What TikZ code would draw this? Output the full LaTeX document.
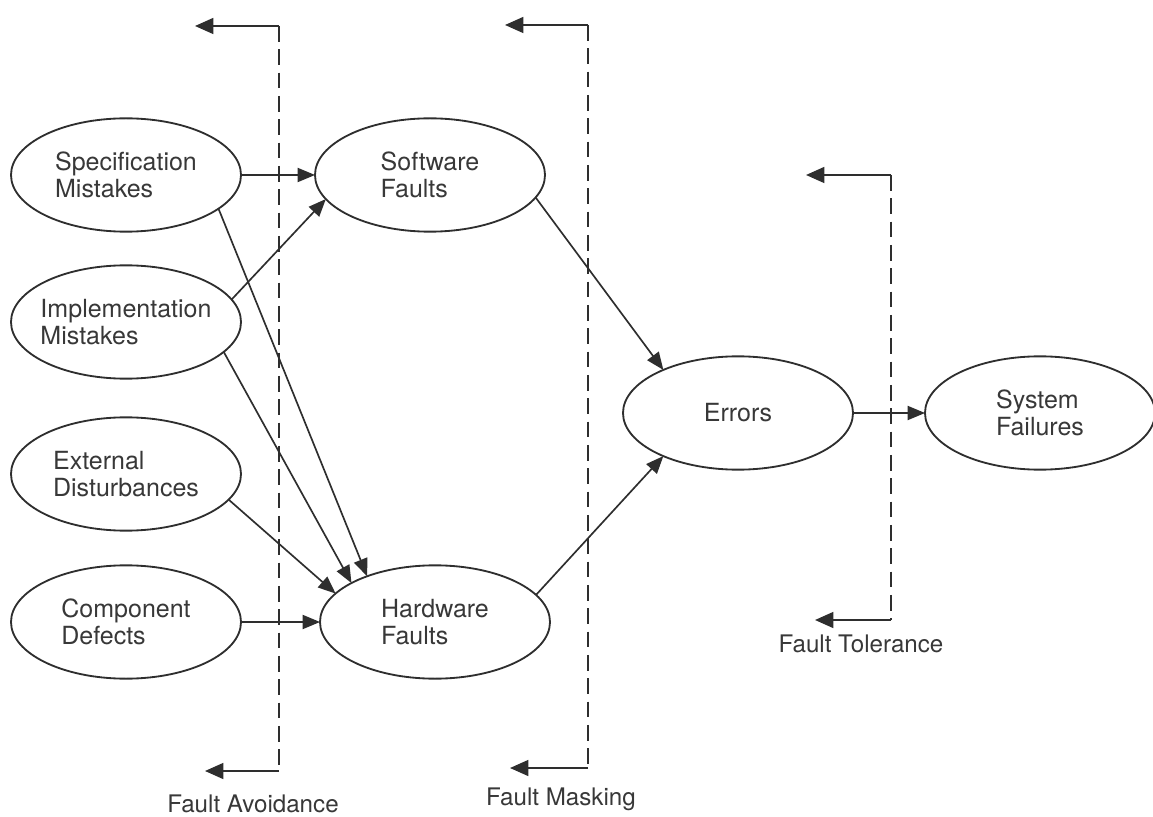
\documentclass[tikz,border=0pt]{standalone}
\usepackage{fontspec}
\setmainfont{TeX Gyre Heros}
\usetikzlibrary{shapes.geometric,arrows.meta}
\definecolor{ink}{HTML}{2E2E2E}
\definecolor{txt}{HTML}{383838}
\begin{document}
\begin{tikzpicture}[x=0.6pt,y=-0.6pt,
  bubble/.style={ellipse,draw=ink,line width=1.1pt,minimum width=138pt,minimum height=68pt,
    inner xsep=-12pt,inner ysep=0pt,outer sep=0pt,align=left,text=txt,
    font=\fontsize{15}{16}\selectfont},
  flow/.style={draw=ink,line width=1pt,-{Triangle[length=10.5pt,width=8.5pt]}},
  bound/.style={draw=ink,line width=1.1pt,dash pattern=on 9.5pt off 4.5pt},
  boundtip/.style={draw=ink,line width=1.2pt,-{Triangle[length=11pt,width=9.5pt]}},
  caption/.style={text=txt,font=\fontsize{14.5}{16}\selectfont,anchor=base,inner sep=0pt}]
\useasboundingbox (0,0) rectangle (1153,817);
\fill[white] (0,0) rectangle (1153,817);

% causes
\node[bubble] (spec) at (126,175) {Specification\\Mistakes};
\node[bubble] (impl) at (126,322) {Implementation\\Mistakes};
\node[bubble] (ext)  at (126,474) {External\\Disturbances};
\node[bubble] (comp) at (126,622) {Component\\Defects};
% faults, errors, failures
\node[bubble] (sw)  at (430,175)  {Software\\Faults};
\node[bubble] (hw)  at (435,622)  {Hardware\\Faults};
\node[bubble] (err) at (738,413)  {Errors};
\node[bubble] (sys) at (1040,413) {System\\Failures};

% cause-effect connectors
\draw[flow] (spec.east) -- (sw.west);
\draw[flow] (impl.12)   -- (sw.193);
\draw[flow] (spec.-20)  -- (hw.146);
\draw[flow] (impl.-17)  -- (hw.155);
\draw[flow] (ext.-14)   -- (hw.164);
\draw[flow] (comp.east) -- (hw.west);
\draw[flow] (sw.-12)    -- (err.150);
\draw[flow] (hw.15)     -- (err.210);
\draw[flow] (err.east)  -- (sys.west);

% fault avoidance boundary
\coordinate (avTop) at (279,26);  \coordinate (avTopEnd) at (195,26);
\coordinate (avBot) at (279,771); \coordinate (avBotEnd) at (205,771);
\draw[bound] (avTop) -- (avBot);
\draw[boundtip] (avTop) -- (avTopEnd);
\draw[boundtip] (avBot) -- (avBotEnd);
\node[caption] (avLbl) at (253,812) {Fault Avoidance};

% fault masking boundary
\coordinate (maTop) at (588,25);  \coordinate (maTopEnd) at (505,25);
\coordinate (maBot) at (588,768); \coordinate (maBotEnd) at (510,768);
\draw[bound] (maTop) -- (maBot);
\draw[boundtip] (maTop) -- (maTopEnd);
\draw[boundtip] (maBot) -- (maBotEnd);
\node[caption] (maLbl) at (561,805) {Fault Masking};

% fault tolerance boundary
\coordinate (toTop) at (891,175); \coordinate (toTopEnd) at (806,175);
\coordinate (toBot) at (891,620); \coordinate (toBotEnd) at (815,620);
\draw[bound] (toTop) -- (toBot);
\draw[boundtip] (toTop) -- (toTopEnd);
\draw[boundtip] (toBot) -- (toBotEnd);
\node[caption] (toLbl) at (861,652) {Fault Tolerance};
\end{tikzpicture}
\end{document}
